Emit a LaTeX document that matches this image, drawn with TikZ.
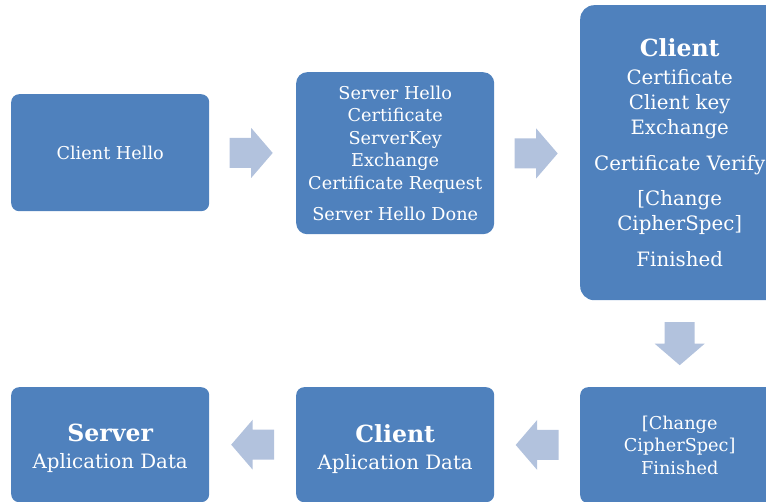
\documentclass[tikz,border=0pt]{standalone}
\usepackage{fontspec}
\setmainfont{DejaVu Serif}
\usetikzlibrary{calc}

\definecolor{boxblue}{HTML}{4F81BD}
\definecolor{arrowblue}{HTML}{B2C2DD}

\tikzset{
  stage/.style={fill=boxblue, text=white, align=center, inner sep=0pt,
                anchor=north west},
  stagetext/.style={text=white, align=center, inner sep=0pt},
  smalltext/.style={font=\fontsize{17.7}{22.5}\selectfont},
  bigtext/.style={font=\fontsize{19.8}{25}\selectfont},
  % block arrow pointing along +x, centred on the pic origin
  blockarrow/.pic={
    \fill[arrowblue] (-21.5,-15) -- (0,-15) -- (0,-25) -- (21.5,0)
      -- (0,25) -- (0,15) -- (-21.5,15) -- cycle;
  }
}

\newcommand{\headline}[1]{{\bfseries\fontsize{23.6}{28}\selectfont #1}}

\begin{document}
\begin{tikzpicture}[x=1pt, y=-1pt]
  \useasboundingbox (0,0) rectangle (766,502);
  \clip (0,0) rectangle (766,502);

  % top row
  \node[stage, smalltext, rounded corners=8pt, minimum width=198pt, minimum height=117pt]
    (hello) at (11,94) {Client Hello};
  \node[stage, smalltext, rounded corners=11pt, minimum width=198pt, minimum height=162pt]
    (server) at (296,72) {Server Hello\\Certificate\\ServerKey\\Exchange\\
      Certificate Request\\[8.5pt]Server Hello Done};
  \node[stage, bigtext, rounded corners=14pt, minimum width=199pt, minimum height=295pt]
    (client) at (580,5) {\headline{Client}\\[3pt]Certificate\\Client key\\Exchange\\[11pt]
      Certificate Verify\\[10pt][Change\\CipherSpec]\\[11pt]Finished};

  % bottom row
  \node[stage, smalltext, rounded corners=8pt, minimum width=199pt, minimum height=116pt]
    (finish) at (580,387) {[Change\\CipherSpec]\\Finished};
  \node[stage, rounded corners=8pt, minimum width=198pt, minimum height=115pt,
        label={[stagetext, bigtext, yshift=-4pt]center:{\headline{Client}\\[2pt]Aplication Data}}]
    (clientdata) at (296,387) {};
  \node[stage, rounded corners=8pt, minimum width=198pt, minimum height=115pt,
        label={[stagetext, bigtext, yshift=-4pt]center:{\headline{Server}\\[2pt]Aplication Data}}]
    (serverdata) at (11,387) {};

  % block arrows between the stages
  \pic at ($(hello.east)!0.5!(server.west)+(-1.5,0)$) {blockarrow};
  \pic at ($(server.east)!0.5!(client.west)+(-1,0.5)$) {blockarrow};
  \pic[rotate=-90] at ($(client.south)!0.5!(finish.north)$) {blockarrow};
  \pic[rotate=180] at ($(finish.west)!0.5!(clientdata.east)$) {blockarrow};
  \pic[rotate=180] at ($(clientdata.west)!0.5!(serverdata.east)$) {blockarrow};
\end{tikzpicture}
\end{document}
